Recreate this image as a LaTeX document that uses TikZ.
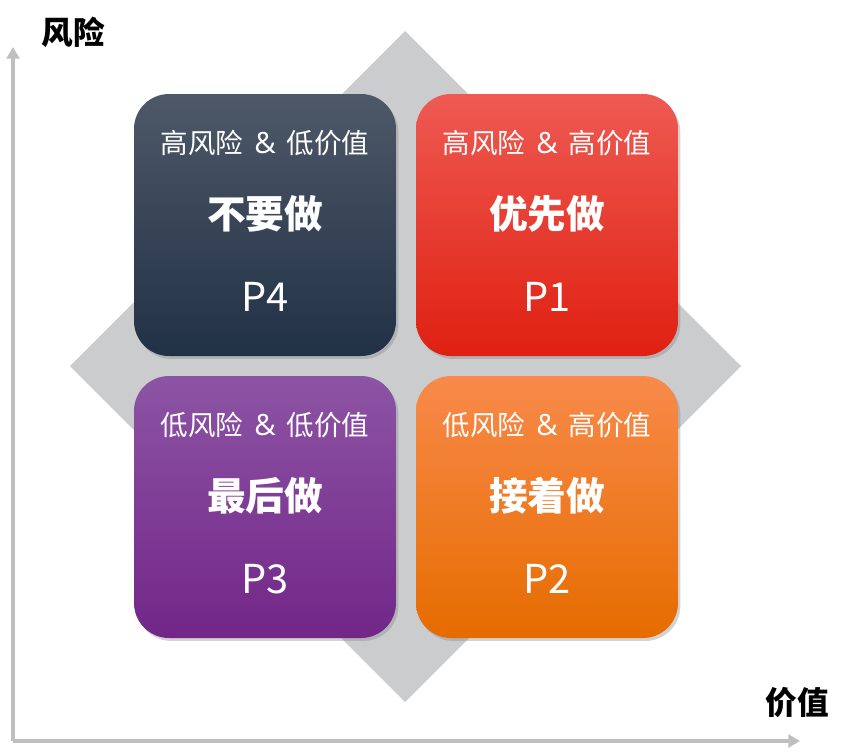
\documentclass[tikz,border=0pt]{standalone}
\usepackage{fontspec}
\setmainfont{Noto Sans CJK SC}
\newfontfamily\ampfont{Open Sans}
\usetikzlibrary{shadows,arrows.meta}
\definecolor{diam}{HTML}{CBCCCE}
\definecolor{axisgray}{HTML}{BFBFBF}
\definecolor{pfourT}{HTML}{4E5868}
\definecolor{pfourM}{HTML}{2C3B51}
\definecolor{pfourB}{HTML}{213146}
\definecolor{poneT}{HTML}{EE5A52}
\definecolor{poneM}{HTML}{EF2D1F}
\definecolor{poneB}{HTML}{DF2011}
\definecolor{pthreeT}{HTML}{8C54A4}
\definecolor{pthreeM}{HTML}{7B2F95}
\definecolor{pthreeB}{HTML}{722688}
\definecolor{ptwoT}{HTML}{F88A4A}
\definecolor{ptwoM}{HTML}{F87A00}
\definecolor{ptwoB}{HTML}{E66C00}
\tikzset{
  quad/.style={rounded corners=35*0.03cm, drop shadow={opacity=0.35, shadow xshift=2pt, shadow yshift=-2.5pt}},
  subtxt/.style={text=white, font=\fontsize{23.5}{26}\selectfont},
  maintxt/.style={text=white, font=\fontsize{33}{38}\selectfont\bfseries},
  ptxt/.style={text=white, font=\fontsize{34}{38}\selectfont},
  axlabel/.style={text=black, font=\fontsize{27}{30}\selectfont\bfseries},
  axisline/.style={draw=axisgray, line width=2.6pt, -{Triangle[length=10pt,width=11pt]}}
}
\newcommand{\amp}{\hspace{0.4em}{\ampfont\fontsize{25}{26}\selectfont\&}\hspace{0.4em}}
\begin{document}
\begin{tikzpicture}[x=0.03cm,y=-0.03cm]
\useasboundingbox (0,0) rectangle (851,755);
% diamond
\fill[diam] (405,31) -- (741,366) -- (405,702) -- (70,366) -- cycle;
% axes
\coordinate (org) at (13,741);
\coordinate (ytop) at (13,47);
\coordinate (xend) at (800,741);
\draw[axisline] (org) -- (ytop);
\draw[axisline] (org) -- (xend);
\node[axlabel] (ylab) at (73,32) {风险};
\node[axlabel] (xlab) at (797,703) {价值};
% quadrants
\path[quad, top color=pfourT, middle color=pfourM, bottom color=pfourB] (134,94) rectangle (396,356);
\path[quad, top color=poneT, middle color=poneM, bottom color=poneB] (416,94) rectangle (678,356);
\path[quad, top color=pthreeT, middle color=pthreeM, bottom color=pthreeB] (134,376) rectangle (396,638);
\path[quad, top color=ptwoT, middle color=ptwoM, bottom color=ptwoB] (416,376) rectangle (678,638);
% texts P4
\node[subtxt] (s4) at (265,143) {高风险\amp 低价值};
\node[maintxt] (m4) at (265,214) {不要做};
\node[ptxt] (p4) at (265,297) {P4};
% P1
\node[subtxt] (s1) at (547,143) {高风险\amp 高价值};
\node[maintxt] (m1) at (547,214) {优先做};
\node[ptxt] (p1) at (547,297) {P1};
% P3
\node[subtxt] (s3) at (265,425) {低风险\amp 低价值};
\node[maintxt] (m3) at (265,496) {最后做};
\node[ptxt] (p3) at (265,579) {P3};
% P2
\node[subtxt] (s2) at (547,425) {低风险\amp 高价值};
\node[maintxt] (m2) at (547,496) {接着做};
\node[ptxt] (p2) at (547,579) {P2};
\end{tikzpicture}
\end{document}
